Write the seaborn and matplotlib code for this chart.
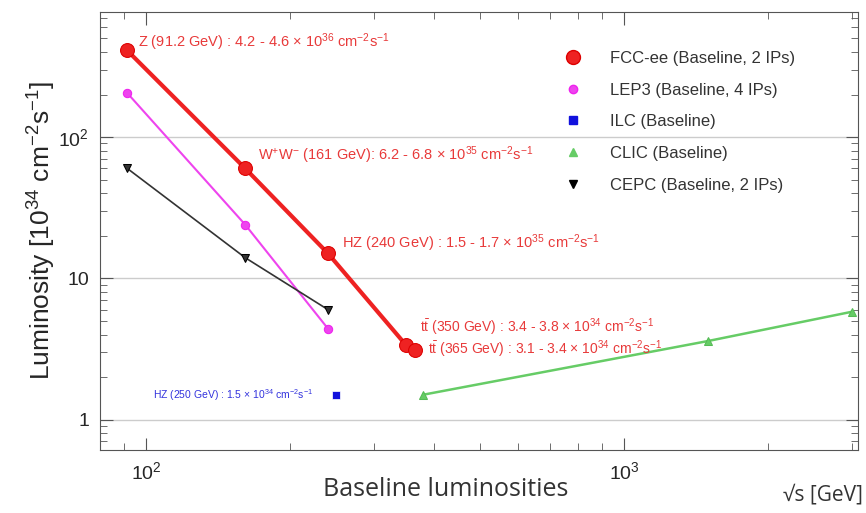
import numpy as np
import pandas as pd
import seaborn as sns
import matplotlib.pyplot as plt
from matplotlib.lines import Line2D
from matplotlib.ticker import FixedLocator, NullFormatter, LogLocator

# centre-of-mass energies [GeV] and luminosities [1e34 cm^-2 s^-1]
fcc_E = [91.2, 161, 240, 350, 365]
fcc_L = [410, 60, 15, 3.35, 3.1]
lep3_E = [91.2, 161, 240]
lep3_L = [205, 24, 4.4]
cepc_E = [91.2, 161, 240]
cepc_L = [60, 14, 6.0]
ilc_E = [250]
ilc_L = [1.5]
clic_E = [380, 1500, 3000]
clic_L = [1.5, 3.6, 5.8]

labels = ['FCC-ee (Baseline, 2 IPs)', 'LEP3 (Baseline, 4 IPs)', 'ILC (Baseline)',
          'CLIC (Baseline)', 'CEPC (Baseline, 2 IPs)']

sns.set_style('ticks')
plt.rcParams['font.family'] = ['Liberation Sans', 'DejaVu Sans']
plt.rcParams['mathtext.fontset'] = 'custom'
plt.rcParams['mathtext.rm'] = 'Liberation Sans'
plt.rcParams['mathtext.it'] = 'Liberation Sans:italic'

fig = plt.figure(figsize=(8.66, 5.13), dpi=100)
ax = fig.add_axes([0.1155, 0.123, 0.8755, 0.854])
ax.set_xscale('log')
ax.set_yscale('log')

sns.lineplot(x=lep3_E, y=lep3_L, color='#ee44ee', lw=1.5, marker='o', ms=6, mec='#ee22ee', ax=ax)
sns.lineplot(x=cepc_E, y=cepc_L, color='#333333', lw=1.2, marker='v', ms=6, mec='black', ax=ax)
sns.lineplot(x=fcc_E, y=fcc_L, color='#ee2222', lw=3, marker='o', ms=10, mec='#dd0000', ax=ax)
sns.lineplot(x=clic_E, y=clic_L, color='#66cc66', lw=1.8, marker='^', ms=6, mec='#55bb55', ax=ax)
sns.scatterplot(x=ilc_E, y=ilc_L, color='#1111dd', marker='s', s=40, ax=ax)

ax.set_xlim(80, 3090)
ax.set_ylim(0.61, 770)

ax.yaxis.set_major_locator(FixedLocator([1, 10, 100]))
ax.set_yticklabels(['1', '10', r'$10^2$'])
ax.xaxis.set_major_locator(FixedLocator([100, 1000]))
ax.set_xticklabels([r'$10^2$', r'$10^3$'])
ax.xaxis.set_minor_locator(LogLocator(subs=np.arange(2, 10)))
ax.yaxis.set_minor_locator(LogLocator(subs=np.arange(2, 10)))
ax.xaxis.set_minor_formatter(NullFormatter())
ax.yaxis.set_minor_formatter(NullFormatter())
ax.tick_params(which='both', direction='in', top=True, right=True, color='#555555')
ax.tick_params(which='major', length=9, labelsize=14, pad=8)
ax.tick_params(which='minor', length=5)
for s in ax.spines.values():
    s.set_color('#555555')
ax.grid(axis='y', which='major', color='#cccccc', lw=1)

ax.set_ylabel(r'Luminosity [10$^{34}$ cm$^{-2}$s$^{-1}$]', fontsize=19, labelpad=0)
fig.text(0.515, 0.045, 'Baseline luminosities', fontsize=18, ha='center', va='center',
         color='#333333', family='Open Sans')
fig.text(0.996, 0.035, '\u221As [GeV]', fontsize=15, ha='right', va='center',
         color='#333333', family='Open Sans')

red = '#e83a3a'
fs = 10.5
ax.text(96, 472, r'Z (91.2 GeV) : 4.2 - 4.6 $\times$ 10$^{36}$ cm$^{-2}$s$^{-1}$', color=red, fontsize=fs, va='center')
ax.text(171, 74.5, r'W$^{+}$W$^{-}$ (161 GeV): 6.2 - 6.8 $\times$ 10$^{35}$ cm$^{-2}$s$^{-1}$', color=red, fontsize=fs, va='center')
ax.text(257, 17.7, r'HZ (240 GeV) : 1.5 - 1.7 $\times$ 10$^{35}$ cm$^{-2}$s$^{-1}$', color=red, fontsize=fs, va='center')
ax.text(374, 4.5, r't$\bar{\rm t}$ (350 GeV) : 3.4 - 3.8 $\times$ 10$^{34}$ cm$^{-2}$s$^{-1}$', color=red, fontsize=10, va='center')
ax.text(389, 3.15, r't$\bar{\rm t}$ (365 GeV) : 3.1 - 3.4 $\times$ 10$^{34}$ cm$^{-2}$s$^{-1}$', color=red, fontsize=10, va='center')
ax.text(103.5, 1.48, r'HZ (250 GeV) : 1.5 $\times$ 10$^{34}$ cm$^{-2}$s$^{-1}$', color='#3333dd', fontsize=7.5, va='center')

handles = [
    Line2D([], [], ls='none', marker='o', ms=10, color='#ee2222', mec='#dd0000'),
    Line2D([], [], ls='none', marker='o', ms=6, color='#ee44ee', mec='#ee22ee'),
    Line2D([], [], ls='none', marker='s', ms=6, color='#1111dd'),
    Line2D([], [], ls='none', marker='^', ms=6, color='#66cc66'),
    Line2D([], [], ls='none', marker='v', ms=6, color='black'),
]
ax.legend(handles, labels, loc='upper left', bbox_to_anchor=(0.582, 0.945), frameon=False,
          fontsize=12, labelspacing=1.0, handletextpad=1.2, labelcolor='#333333')

fig.savefig('out.png', dpi=100)
